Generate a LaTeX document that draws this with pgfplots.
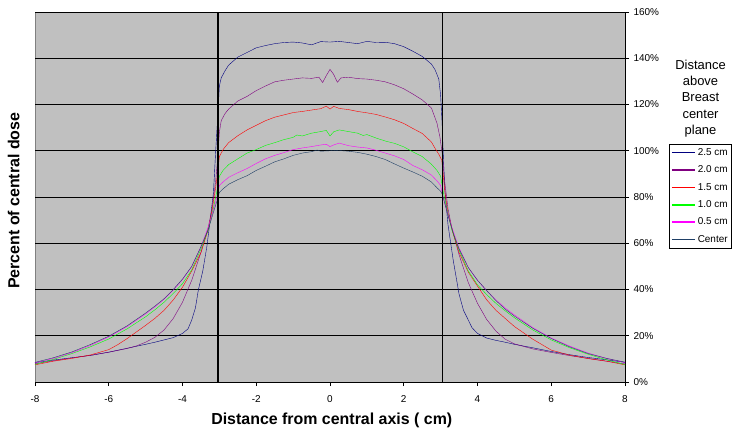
\documentclass[border=0pt]{standalone}
\usepackage{pgfplots}
\pgfplotsset{compat=1.18}
\usepackage{fontspec}
\setmainfont{Liberation Sans}
\definecolor{plotgray}{HTML}{C0C0C0}
\definecolor{cnavy}{HTML}{000080}
\definecolor{cpurple}{HTML}{800080}
\definecolor{cred}{HTML}{FF0000}
\definecolor{cgreen}{HTML}{00FF00}
\definecolor{cmagenta}{HTML}{FF00FF}
\definecolor{ccenter}{HTML}{1F3F66}
\begin{document}
\begin{tikzpicture}
\begin{axis}[
  scale only axis, width=590bp, height=370bp,
  at={(0,0)}, anchor=south west,
  xmin=-8, xmax=8, ymin=0, ymax=160,
  clip=false,
  axis x line*=bottom, axis y line*=right,
  axis line style={black, line width=0.8bp},
  axis background/.style={fill=plotgray, draw=gray, line width=0.8bp},
  xtick={-8,-6,...,8}, ytick={0,20,...,160},
  yticklabel={\pgfmathprintnumber{\tick}\%},
  /pgf/number format/assume math mode=true,
  tick align=outside, major tick length=4bp,
  tick style={black, line width=0.8bp},
  ymajorgrids, grid style={black, line width=0.8bp},
  ticklabel style={font=\fontsize{10}{11}\selectfont},
  xticklabel style={yshift=-6bp},
  yticklabel style={xshift=1bp},
  every plot/.append style={line width=0.8bp},
  legend style={at={(rel axis cs:1.0745,0.643)}, anchor=north west, draw=black, fill=white,
    font=\fontsize{10}{11}\selectfont, inner sep=2bp, row sep=5bp, cells={anchor=west}},
  legend image code/.code={\draw[#1, line width=1.6bp] (0bp,0bp) -- (23bp,0bp);},
]
\addplot[color=cnavy] coordinates {(-8,8.4)(-7.5,9.5)(-7,10.5)(-6.5,11.5)(-6,12.9)(-5.5,14.6)(-5,16.3)(-4.75,17.2)(-4.5,18.2)(-4.25,19.2)(-4,21)(-3.85,23)(-3.75,26.8)(-3.65,32)(-3.57,39.8)(-3.45,48)(-3.34,58.5)(-3.25,70)(-3.16,82)(-3.1,100)(-3.06,110.4)(-3.02,122)(-3.0,128)(-2.95,131.5)(-2.85,134.5)(-2.75,137)(-2.5,140.5)(-2.25,142.5)(-2,144.5)(-1.75,145.5)(-1.5,146.3)(-1.25,146.8)(-1,147)(-0.75,146.6)(-0.5,145.8)(-0.25,147.2)(0,147)(0.25,147.3)(0.5,146.8)(0.75,146.3)(1,147.3)(1.25,146.8)(1.5,146.9)(1.75,146.3)(2,145)(2.25,143)(2.5,140.8)(2.75,137.5)(2.85,135)(2.95,131)(3.0,124)(3.04,112)(3.08,95)(3.12,82)(3.2,68)(3.34,52.8)(3.5,38)(3.62,31)(3.75,26.8)(3.85,23.5)(4,21)(4.25,19)(4.5,18)(4.75,17.2)(5,16.3)(5.5,14.8)(6,13.2)(6.5,11.8)(7,10.6)(7.5,9.6)(8,8.5)};
\addlegendentry{2.5 cm}
\addplot[color=cpurple] coordinates {(-8,7.9)(-7.5,9.2)(-7,10.4)(-6.5,11.5)(-6,12.9)(-5.5,14.5)(-5.25,15.6)(-5,17.2)(-4.75,19.3)(-4.5,22.5)(-4.25,27.5)(-4,34.5)(-3.75,44)(-3.5,56)(-3.3,67)(-3.2,75)(-3.1,87)(-3.05,96)(-3.0,108)(-2.95,113)(-2.85,116)(-2.75,118)(-2.5,121.5)(-2.25,123.5)(-2,126)(-1.75,128)(-1.5,129.8)(-1.25,130.5)(-1,131)(-0.75,131.5)(-0.5,131.3)(-0.3,131.8)(-0.2,129.5)(-0.1,132.5)(0,135.2)(0.1,133)(0.2,129.6)(0.3,131.5)(0.5,131.8)(0.75,131.2)(1,131)(1.25,130.5)(1.5,129.8)(1.75,128.5)(2,126.8)(2.25,124.5)(2.5,122)(2.75,118.5)(2.9,112)(2.98,106)(3.05,98)(3.1,88)(3.2,75)(3.3,67)(3.5,55)(3.75,43)(4,34)(4.25,27)(4.5,22)(4.75,18.5)(5,16.5)(5.5,14.3)(6,12.8)(6.5,11.4)(7,10.2)(7.5,9.0)(8,7.8)};
\addlegendentry{2.0 cm}
\addplot[color=cred] coordinates {(-8,7.4)(-7.5,9.0)(-7,10.2)(-6.5,11.7)(-6,14)(-5.75,16.2)(-5.5,18.8)(-5,24.5)(-4.75,27.5)(-4.5,31)(-4.25,35.5)(-4,41)(-3.75,48)(-3.5,56)(-3.3,66)(-3.2,74)(-3.12,82)(-3.05,90)(-3.0,97.5)(-2.9,100.5)(-2.75,103.5)(-2.5,106.5)(-2.25,109)(-2,111)(-1.75,113)(-1.5,114.5)(-1.25,115.5)(-1,116.5)(-0.75,117)(-0.5,117.6)(-0.25,118.2)(-0.1,119.3)(0,118)(0.1,119.2)(0.25,118.3)(0.5,117.8)(0.75,117)(1,116.4)(1.25,115.7)(1.5,114.6)(1.75,113.4)(2,111.8)(2.25,109.6)(2.5,107.5)(2.75,103.8)(2.85,101)(2.95,98.5)(3.03,96)(3.12,81.6)(3.2,73)(3.34,64)(3.5,56)(3.75,47.5)(4.07,39.8)(4.25,35.5)(4.5,31)(4.75,27.5)(5,24)(5.5,18.5)(6,13.8)(6.5,11.6)(7,10.1)(7.5,9)(8,7.4)};
\addlegendentry{1.5 cm}
\addplot[color=cgreen] coordinates {(-8,7.6)(-7.5,9.8)(-7,12.3)(-6.5,15.2)(-6,18.6)(-5.5,23)(-5,28.2)(-4.75,31.2)(-4.5,34.5)(-4.25,38.3)(-4,42.5)(-3.75,48.5)(-3.5,57.5)(-3.3,66)(-3.15,76)(-3.05,84)(-3.0,89)(-2.9,91.5)(-2.75,94)(-2.5,96.5)(-2.25,99)(-2,100.5)(-1.75,102.3)(-1.5,103.5)(-1.25,104.8)(-1,105.8)(-0.9,106.8)(-0.75,106.4)(-0.5,107.6)(-0.25,108.3)(-0.1,108.8)(0,106.4)(0.1,108.2)(0.25,109)(0.5,108.3)(0.75,107.6)(0.9,106.6)(1,107)(1.25,105.5)(1.5,104.2)(1.75,103.2)(2,101.7)(2.25,99.5)(2.5,97.5)(2.75,94.2)(2.9,91.5)(3.0,89)(3.05,84)(3.15,76)(3.3,66)(3.5,57)(3.75,48)(4,42)(4.25,37.8)(4.5,34)(4.75,30.8)(5,27.8)(5.5,22.5)(6,18.2)(6.5,14.8)(7,12)(7.5,9.6)(8,7.5)};
\addlegendentry{1.0 cm}
\addplot[color=cmagenta] coordinates {(-8,8.3)(-7.5,10.2)(-7,12.7)(-6.5,15.8)(-6,19.5)(-5.5,24)(-5,29.5)(-4.75,32.5)(-4.5,35.8)(-4.25,39.8)(-4,44.3)(-3.75,49.8)(-3.5,58.5)(-3.3,67)(-3.15,75)(-3.05,81)(-3.0,85)(-2.9,86.5)(-2.75,88.5)(-2.5,90.5)(-2.25,92.3)(-2,94.5)(-1.75,96.5)(-1.5,98)(-1.25,99.2)(-1,100.5)(-0.75,101.2)(-0.5,101.8)(-0.25,102.5)(-0.1,102.8)(0,101.8)(0.1,102.5)(0.25,103.3)(0.5,102.2)(0.75,101.6)(1,101.2)(1.25,100.2)(1.5,99)(1.75,97.8)(2,96.2)(2.25,93.6)(2.5,91.8)(2.75,89.5)(2.9,87)(3.0,85)(3.05,81)(3.15,75)(3.3,67)(3.5,58)(3.75,49.5)(4,44)(4.25,39.5)(4.5,35.5)(4.75,32)(5,29)(5.5,23.5)(6,19)(6.5,15.5)(7,12.5)(7.5,10.2)(8,8.4)};
\addlegendentry{0.5 cm}
\addplot[color=ccenter] coordinates {(-8,8.5)(-7.5,10.5)(-7,13)(-6.5,16.2)(-6,19.8)(-5.5,24.3)(-5,29.8)(-4.75,32.8)(-4.5,36)(-4.25,40)(-4,44.5)(-3.75,50)(-3.5,58.5)(-3.3,66)(-3.15,74)(-3.05,79)(-3.0,82)(-2.9,83.5)(-2.75,85.5)(-2.5,87.5)(-2.25,89.2)(-2,91.5)(-1.75,93.3)(-1.5,95.2)(-1.25,96.5)(-1,98)(-0.75,99)(-0.5,99.6)(-0.35,100.3)(-0.25,99.8)(0,100)(0.15,100.2)(0.25,100.1)(0.5,99.8)(0.75,99.3)(1,98.5)(1.25,97.5)(1.5,96.2)(1.75,94.3)(2,92.5)(2.25,90.8)(2.5,89)(2.75,86.5)(2.9,84)(3.0,82.5)(3.05,81)(3.1,78)(3.2,72)(3.35,64)(3.5,57.5)(3.75,49.5)(4,44)(4.25,39.5)(4.5,35.2)(4.75,31.5)(5,28.5)(5.5,23.2)(6,18.8)(6.5,15.2)(7,12.3)(7.5,10.2)(8,8.6)};
\addlegendentry{Center}
\addplot[black, line width=1.5bp, forget plot] coordinates {(-3.04,0)(-3.04,160)};
\addplot[black, line width=1.5bp, forget plot] coordinates {(3.05,0)(3.05,160)};
\node[font=\fontsize{13}{16.2}\selectfont, align=center] at (rel axis cs:1.128,0.766) {Distance\\above\\Breast\\center\\plane};
\node[font=\fontsize{16}{18}\selectfont\bfseries] at (rel axis cs:0.503,-0.103) {Distance from central axis ( cm)};
\node[font=\fontsize{16}{18}\selectfont\bfseries, rotate=90] at (rel axis cs:-0.036,0.49) {Percent of central dose};
\end{axis}
\pgfresetboundingbox
\path[use as bounding box] (-35bp,-49bp) rectangle (699bp,382bp);
\end{tikzpicture}
\end{document}
